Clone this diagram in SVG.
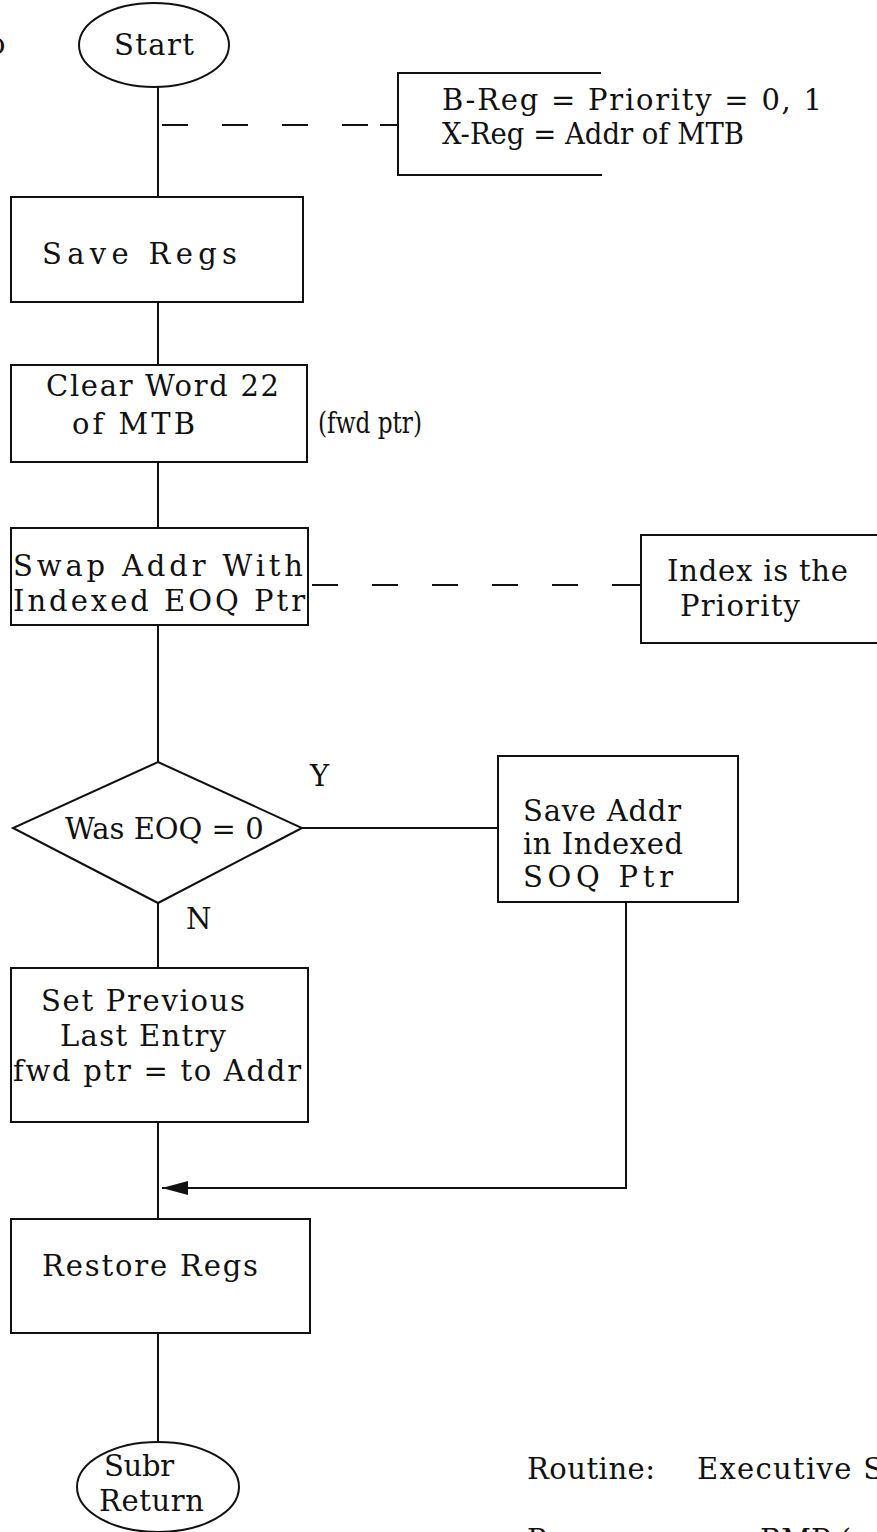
<svg xmlns="http://www.w3.org/2000/svg" width="877" height="1532" viewBox="0 0 877 1532">
<defs>
<style>
.t{font-family:"DejaVu Serif","Liberation Serif",serif;font-size:29px;fill:#111}
.b{fill:none;stroke:#111;stroke-width:2}
.l{fill:none;stroke:#111;stroke-width:2}
.d{fill:none;stroke:#111;stroke-width:2;stroke-dasharray:26,34}
</style>
<marker id="ah" viewBox="0 0 26 14" refX="26" refY="7" markerWidth="26" markerHeight="14" markerUnits="userSpaceOnUse" orient="auto">
<path d="M0,0 L26,7 L0,14 Z" fill="#111"/>
</marker>
</defs>
<rect width="877" height="1532" fill="#fff"/>
<text class="t" x="-12" y="54">o</text>
<g id="connectors">
<line class="l" x1="158" y1="87" x2="158" y2="197"/>
<line class="d" x1="162" y1="125" x2="380" y2="125"/>
<line class="l" x1="380" y1="125" x2="398" y2="125"/>
<line class="l" x1="158" y1="302" x2="158" y2="365"/>
<line class="l" x1="158" y1="462" x2="158" y2="528"/>
<line class="d" x1="312" y1="585" x2="622" y2="585"/>
<line class="l" x1="622" y1="585" x2="641" y2="585"/>
<line class="l" x1="158" y1="625" x2="158" y2="762"/>
<line class="l" x1="302" y1="828" x2="498" y2="828"/>
<line class="l" x1="158" y1="903" x2="158" y2="968"/>
<polyline class="l" points="626,902 626,1188 162,1188" marker-end="url(#ah)"/>
<line class="l" x1="158" y1="1122" x2="158" y2="1219"/>
<line class="l" x1="158" y1="1333" x2="158" y2="1442"/>
</g>
<g id="start">
<ellipse class="b" cx="154" cy="45" rx="75" ry="42"/>
<text class="t" x="154" y="55" text-anchor="middle" font-size="32" textLength="80">Start</text>
</g>
<g id="note-breg">
<path class="b" d="M601,73 H398 V175 H602"/>
<text class="t" x="442" y="110" textLength="380">B-Reg = Priority = 0, 1</text>
<text class="t" x="442" y="144" font-size="27" textLength="302" lengthAdjust="spacingAndGlyphs">X-Reg = Addr of MTB</text>
</g>
<g id="save-regs">
<rect class="b" x="11" y="197" width="292" height="105"/>
<text class="t" x="42" y="264" textLength="195">Save Regs</text>
</g>
<g id="clear-word">
<rect class="b" x="11" y="365" width="296" height="97"/>
<text class="t" x="46" y="396" textLength="233">Clear Word 22</text>
<text class="t" x="72" y="434" textLength="123">of MTB</text>
</g>
<text class="t" x="318" y="433" font-size="24" textLength="104" lengthAdjust="spacingAndGlyphs">(fwd ptr)</text>
<g id="swap-addr">
<rect class="b" x="11" y="528" width="297" height="97"/>
<text class="t" x="13" y="576" textLength="290">Swap Addr With</text>
<text class="t" x="13" y="611" textLength="292">Indexed EOQ Ptr</text>
</g>
<g id="note-index">
<rect class="b" x="641" y="535" width="240" height="108"/>
<text class="t" x="667" y="581" textLength="181">Index is the</text>
<text class="t" x="680" y="616" textLength="120">Priority</text>
</g>
<g id="was-eoq">
<polygon class="b" points="158,762 302,828 158,903 13,828"/>
<text class="t" x="65" y="839">Was EOQ = 0</text>
</g>
<text class="t" x="310" y="786">Y</text>
<text class="t" x="186" y="929">N</text>
<g id="save-addr">
<rect class="b" x="498" y="756" width="240" height="146"/>
<text class="t" x="523" y="821" textLength="158">Save Addr</text>
<text class="t" x="523" y="854" textLength="160">in Indexed</text>
<text class="t" x="523" y="887" textLength="150">SOQ  Ptr</text>
</g>
<g id="set-previous">
<rect class="b" x="11" y="968" width="297" height="154"/>
<text class="t" x="41" y="1011" textLength="204">Set Previous</text>
<text class="t" x="60" y="1046" textLength="166">Last Entry</text>
<text class="t" x="13" y="1081" textLength="288">fwd ptr = to Addr</text>
</g>
<g id="restore-regs">
<rect class="b" x="11" y="1219" width="299" height="114"/>
<text class="t" x="42" y="1276" textLength="216">Restore Regs</text>
</g>
<g id="subr-return">
<ellipse class="b" cx="158" cy="1487" rx="81" ry="45"/>
<text class="t" x="104" y="1476" textLength="70">Subr</text>
<text class="t" x="99" y="1511" textLength="105">Return</text>
</g>
<text class="t" x="527" y="1479" textLength="128">Routine:</text>
<text class="t" x="697" y="1479" textLength="186">Executive S</text>
<text class="t" x="527" y="1550">Program:</text>
<text class="t" x="760" y="1550">BMP (</text>
</svg>
